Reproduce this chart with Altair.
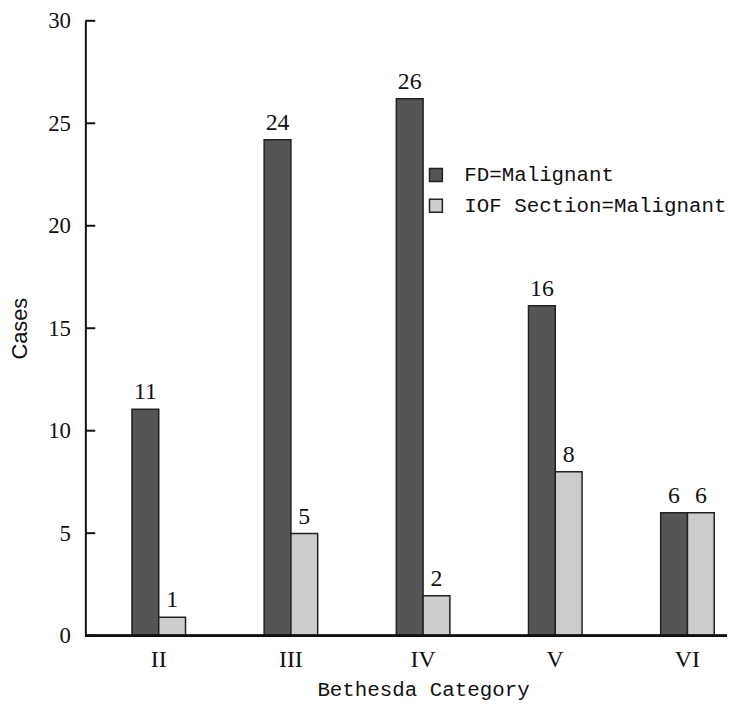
import altair as alt
import pandas as pd

categories = ["II", "III", "IV", "V", "VI"]
series_names = ["FD=Malignant", "IOF Section=Malignant"]
fd_values = [11.05, 24.2, 26.2, 16.1, 6.0]
iof_values = [0.9, 4.98, 1.95, 8.0, 6.0]
fd_labels = ["11", "24", "26", "16", "6"]
iof_labels = ["1", "5", "2", "8", "6"]
y_ticks = [0, 5, 10, 15, 20, 25, 30]

rows = []
for c, v, l in zip(categories, fd_values, fd_labels):
    rows.append({"cat": c, "series": series_names[0], "value": v, "label": l})
for c, v, l in zip(categories, iof_values, iof_labels):
    rows.append({"cat": c, "series": series_names[1], "value": v, "label": l})
df = pd.DataFrame(rows)
ticks_df = pd.DataFrame({"t": y_ticks})

W = 640
H = 620
PAD_R = 7

xscale = alt.Scale(type="band", domain=categories, range=[7.3, 673.7],
                   paddingInner=0, paddingOuter=0)
xoff = alt.XOffset("series:N", sort=series_names,
                   scale=alt.Scale(type="band", domain=series_names, range=[39.7, 93.7],
                                   paddingOuter=0, paddingInner=0))
yscale = alt.Scale(domain=[0, 30], nice=False, zero=True)

x_enc = alt.X("cat:N", sort=categories, scale=xscale,
              axis=alt.Axis(title="Bethesda Category", ticks=False, domain=False,
                            labelAngle=0, labelFont="Liberation Serif",
                            labelFontSize=24, labelColor="#111111",
                            labelPadding=12,
                            titleFont="Liberation Mono", titleFontSize=21,
                            titleFontWeight="normal", titleColor="#111111",
                            titlePadding=7))

bars = alt.Chart(df).mark_bar(stroke="#222222", strokeWidth=1.5).encode(
    x=x_enc,
    xOffset=xoff,
    y=alt.Y("value:Q", scale=yscale,
            axis=alt.Axis(title="Cases", values=y_ticks, ticks=False, grid=False,
                          domainColor="#111111", domainWidth=2,
                          labelFont="Liberation Serif", labelFontSize=23,
                          labelColor="#111111", labelPadding=15,
                          titleFont="Liberation Sans", titleFontSize=22,
                          titleFontWeight="normal", titleColor="#111111",
                          titlePadding=16)),
    color=alt.Color("series:N", sort=series_names,
                    scale=alt.Scale(domain=series_names, range=["#555555", "#cccccc"]),
                    legend=alt.Legend(title=None, orient="none", legendX=343, legendY=145,
                                      symbolType="square", symbolSize=169,
                                      symbolStrokeColor="#222222", symbolStrokeWidth=1.5,
                                      labelFont="Liberation Mono", labelFontSize=21,
                                      labelColor="#111111", labelOffset=18,
                                      rowPadding=9, labelLimit=400)),
)

labels = alt.Chart(df).mark_text(font="Liberation Serif", fontSize=24, color="#111111",
                                 baseline="alphabetic", dy=-10).encode(
    x=alt.X("cat:N", sort=categories, scale=xscale),
    xOffset=xoff,
    y=alt.Y("value:Q", scale=yscale),
    text="label:N",
)

yticks = alt.Chart(ticks_df).mark_rule(color="#111111", strokeWidth=2).encode(
    y=alt.Y("t:Q", scale=yscale),
    x=alt.value(0),
    x2=alt.value(10),
)

baseline = alt.Chart(ticks_df).mark_rule(color="#111111", strokeWidth=2).encode(
    y=alt.value(H),
    x=alt.value(0),
    x2=alt.value(W + PAD_R),
)

chart = alt.layer(bars, labels, yticks, baseline).properties(
    width=W, height=H,
    autosize=alt.AutoSizeParams(type="none"),
    padding={"left": 78, "top": 10, "right": PAD_R, "bottom": 65},
).configure_view(stroke=None)

chart.save("out.html", embed_options={"renderer": "svg", "actions": False})
